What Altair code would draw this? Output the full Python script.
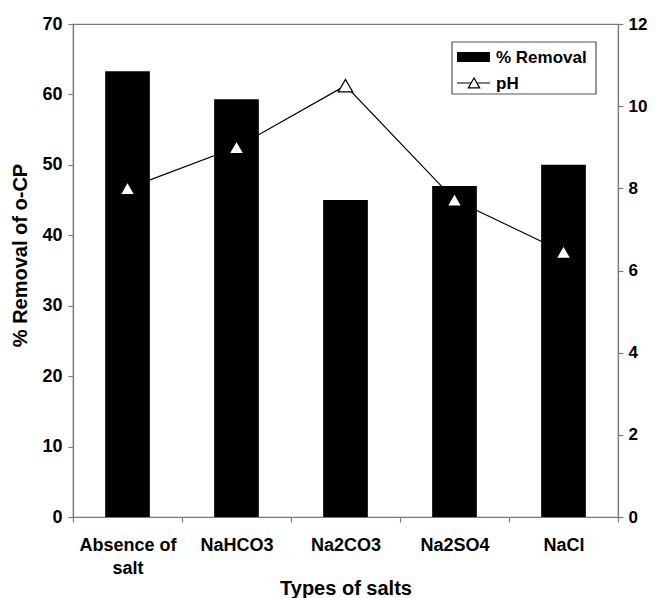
import altair as alt
import pandas as pd

salts = ["Absence of salt", "NaHCO3", "Na2CO3", "Na2SO4", "NaCl"]
removal = [63.3, 59.3, 45.0, 47.0, 50.0]
ph = [8.0, 9.0, 10.5, 7.72, 6.45]

df = pd.DataFrame({"salt": salts, "removal": removal, "ph": ph})

FONT = "Liberation Sans"
GRAY = "#7a7a7a"

xenc = alt.X(
    "salt:N",
    sort=salts,
    scale=alt.Scale(paddingInner=0, paddingOuter=0),
    axis=alt.Axis(
        title="Types of salts",
        tickBand="extent",
        labelAngle=0,
        labelExpr="datum.value == 'Absence of salt' ? ['Absence of', 'salt'] : datum.value",
        labelLineHeight=23,
        labelPadding=14,
        titleY=71,
        titleBaseline="middle",
    ),
)

bars = alt.Chart(df).mark_bar(color="black", width=alt.RelativeBandSize(0.41)).encode(
    x=xenc,
    y=alt.Y(
        "removal:Q",
        scale=alt.Scale(domain=[0, 70], nice=False),
        axis=alt.Axis(
            title="% Removal of o-CP",
            values=[0, 10, 20, 30, 40, 50, 60, 70],
            labelPadding=6,
            titleX=-53,
            titleY=231,
            titleAlign="center",
            titleBaseline="middle",
        ),
    ),
)

ph_axis = alt.Axis(
    title=None,
    orient="right",
    values=[0, 2, 4, 6, 8, 10, 12],
    labelPadding=5,
    labelFontSize=17,
)
ph_scale = alt.Scale(domain=[0, 12], nice=False)

line = alt.Chart(df).mark_line(color="black", strokeWidth=1.2).encode(
    x=alt.X("salt:N", sort=salts),
    y=alt.Y("ph:Q", scale=ph_scale, axis=ph_axis),
)

pts = alt.Chart(df).mark_point(
    shape="triangle-up", filled=True, fill="white", stroke="black", strokeWidth=1.2, size=210, opacity=1
).encode(
    x=alt.X("salt:N", sort=salts),
    y=alt.Y("ph:Q", scale=ph_scale, axis=ph_axis),
)

one = pd.DataFrame({"a": [0]})
base = alt.Chart(one)
leg_box = base.mark_rect(fill="white", stroke="#555555", strokeWidth=1.2).encode(
    x=alt.value(379), x2=alt.value(523), y=alt.value(18), y2=alt.value(70)
)
leg_sw = base.mark_rect(fill="black").encode(
    x=alt.value(384), x2=alt.value(417), y=alt.value(28), y2=alt.value(38)
)
leg_line = base.mark_rule(color="black", strokeWidth=1.2).encode(
    x=alt.value(384), x2=alt.value(417), y=alt.value(59)
)
leg_tri = base.mark_point(
    shape="triangle-up", filled=True, fill="white", stroke="black", strokeWidth=1.2, size=130, opacity=1
).encode(x=alt.value(401), y=alt.value(59))
leg_t1 = base.mark_text(
    text="% Removal", font=FONT, fontWeight="bold", fontSize=17, align="left", baseline="middle"
).encode(x=alt.value(423), y=alt.value(34))
leg_t2 = base.mark_text(
    text="pH", font=FONT, fontWeight="bold", fontSize=17, align="left", baseline="middle"
).encode(x=alt.value(423), y=alt.value(60))

legend = alt.layer(leg_box, leg_sw, leg_line, leg_tri, leg_t1, leg_t2)

chart = (
    alt.layer(bars, alt.layer(line, pts), legend)
    .resolve_scale(y="independent")
    .properties(
        width=545,
        height=493,
        autosize=alt.AutoSizeParams(type="none"),
        padding={"left": 65, "top": 16, "right": 30, "bottom": 81},
    )
    .configure_view(stroke=GRAY, strokeWidth=1.2)
    .configure_axis(
        grid=False,
        domainColor=GRAY,
        domainWidth=1.2,
        tickColor=GRAY,
        tickWidth=1.2,
        tickSize=5,
        labelFont=FONT,
        labelFontWeight="bold",
        labelFontSize=18,
        labelColor="black",
        titleFont=FONT,
        titleFontWeight="bold",
        titleFontSize=20,
        titleColor="black",
    )
)

chart.save("out.html", embed_options={"renderer": "svg", "actions": False})
